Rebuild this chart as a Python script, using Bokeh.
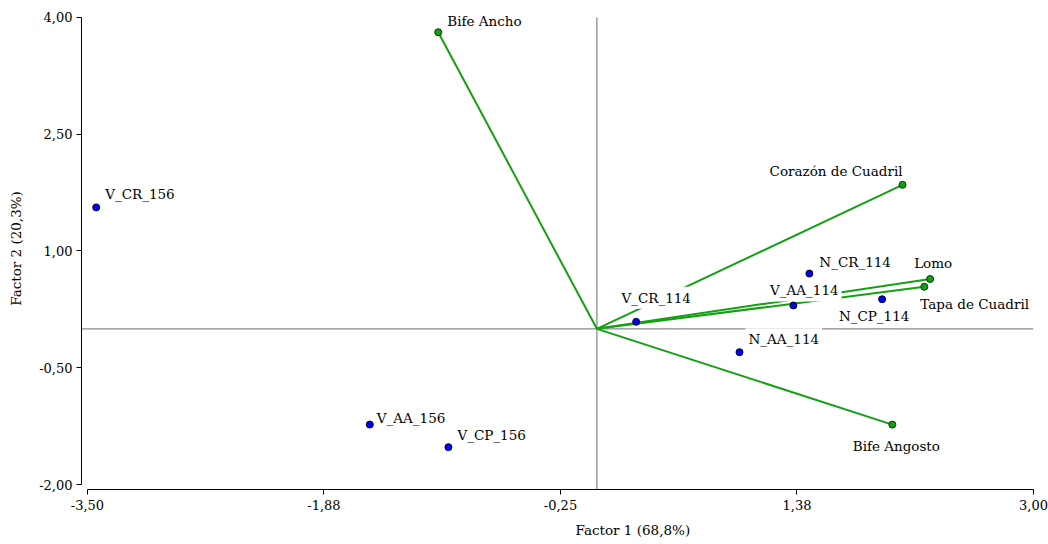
from bokeh.plotting import figure
from bokeh.models import Range1d, FixedTicker, CustomJSTickFormatter, Span, Label, Title, ColumnDataSource
from bokeh.embed import file_html
from bokeh.resources import INLINE

# ---- data -------------------------------------------------------------
var_names = ["Bife Ancho", "Corazón de Cuadril", "Lomo", "Tapa de Cuadril", "Bife Angosto"]
var_x = [-1.09, 2.10, 2.29, 2.25, 2.03]
var_y = [3.81, 1.85, 0.64, 0.54, -1.23]

obs_names = ["V_CR_156", "V_AA_156", "V_CP_156", "V_CR_114",
             "N_CR_114", "V_AA_114", "N_AA_114", "N_CP_114"]
obs_x = [-3.44, -1.56, -1.02, 0.27, 1.46, 1.35, 0.98, 1.96]
obs_y = [1.56, -1.23, -1.52, 0.09, 0.71, 0.30, -0.30, 0.38]

x_ticks = [-3.50, -1.875, -0.25, 1.375, 3.00]
y_ticks = [-2.00, -0.50, 1.00, 2.50, 4.00]

x_title = "Factor 1 (68,8%)"
y_title = "Factor 2 (20,3%)"

# ---- label placement (style only): align, x offset px, y offset px ------
label_style = {
    "Bife Ancho": ("left", 6, 11),
    "Corazón de Cuadril": ("right", 3, 14),
    "Lomo": ("center", 3, 16),
    "Tapa de Cuadril": ("left", -7, -17),
    "Bife Angosto": ("center", 4, -21),
    "V_CR_156": ("left", 6, 13),
    "V_AA_156": ("left", 4, 7),
    "V_CP_156": ("left", 6, 12),
    "V_CR_114": ("center", 20, 24),
    "N_CR_114": ("left", 7, 12),
    "V_AA_114": ("center", 11, 15),
    "N_AA_114": ("left", 6, 13),
    "N_CP_114": ("center", -8, -17),
}

FONT = "DejaVu Serif"
GREEN = "#14a014"
GREY = "#8a8a8a"

p = figure(width=1048, height=544,
           x_range=Range1d(-3.541, 3.0), y_range=Range1d(-2.064, 4.128),
           output_backend="svg", toolbar_location=None,
           min_border_left=81, min_border_right=15,
           min_border_top=7, min_border_bottom=54)
p.grid.visible = False
p.outline_line_color = None
p.background_fill_color = "white"

# axes
p.xaxis.ticker = FixedTicker(ticks=x_ticks)
p.yaxis.ticker = FixedTicker(ticks=y_ticks)
fmt = "return tick.toFixed(2).replace('.', ',');"
p.xaxis.formatter = CustomJSTickFormatter(code=fmt)
p.yaxis.formatter = CustomJSTickFormatter(code=fmt)
p.xaxis.bounds = (x_ticks[0], x_ticks[-1])
p.yaxis.bounds = (y_ticks[0], y_ticks[-1])
for ax in (p.xaxis, p.yaxis):
    ax.axis_line_color = "black"
    ax.axis_line_width = 1
    ax.major_tick_line_color = "black"
    ax.major_tick_out = 5
    ax.major_tick_in = 0
    ax.minor_tick_line_color = None
    ax.major_label_text_font = FONT
    ax.major_label_text_font_size = "13px"
    ax.major_label_text_color = "black"
    ax.axis_label_text_font = FONT
    ax.axis_label_text_font_size = "13.5px"
    ax.axis_label_text_font_style = "normal"
    ax.axis_label_text_color = "black"
p.xaxis.major_label_standoff = 5
p.yaxis.major_label_standoff = 4
p.yaxis.axis_label = y_title
p.yaxis.axis_label_standoff = 12

# x axis title, shifted right of centre as in the original
p.add_layout(Title(text=x_title, align="left", offset=494, standoff=14,
                   text_font=FONT, text_font_size="13.5px",
                   text_font_style="normal", text_color="black"), "below")

# reference lines through the origin
p.add_layout(Span(location=0, dimension="width", line_color=GREY,
                  line_width=1.3, level="underlay"))
p.segment(x0=[0.0], y0=[p.y_range.start], x1=[0.0], y1=[y_ticks[-1]],
          line_color=GREY, line_width=1.3)

# variable vectors
vsrc = ColumnDataSource(dict(x0=[0.0] * len(var_x), y0=[0.0] * len(var_y),
                             x=var_x, y=var_y, name=var_names))
p.segment(x0="x0", y0="y0", x1="x", y1="y", source=vsrc,
          line_color=GREEN, line_width=2)

# point labels (white boxes hide the lines behind them)
for names, xs, ys in ((var_names, var_x, var_y), (obs_names, obs_x, obs_y)):
    for n, xv, yv in zip(names, xs, ys):
        al, dx, dy = label_style[n]
        p.add_layout(Label(x=xv, y=yv, text=n, x_offset=dx, y_offset=dy,
                           text_align=al, text_baseline="alphabetic",
                           text_font=FONT, text_font_size="13.5px",
                           text_color="black", background_fill_color="white",
                           padding=3))

# markers drawn above the label boxes
r1 = p.scatter("x", "y", source=vsrc, size=7, fill_color=GREEN,
               line_color="#0a300a", line_width=1)
r1.level = "overlay"
osrc = ColumnDataSource(dict(x=obs_x, y=obs_y, name=obs_names))
r2 = p.scatter("x", "y", source=osrc, size=7, fill_color="#0000e6",
               line_color="#000040", line_width=1)
r2.level = "overlay"

open("out.html", "w").write(file_html(p, INLINE))
